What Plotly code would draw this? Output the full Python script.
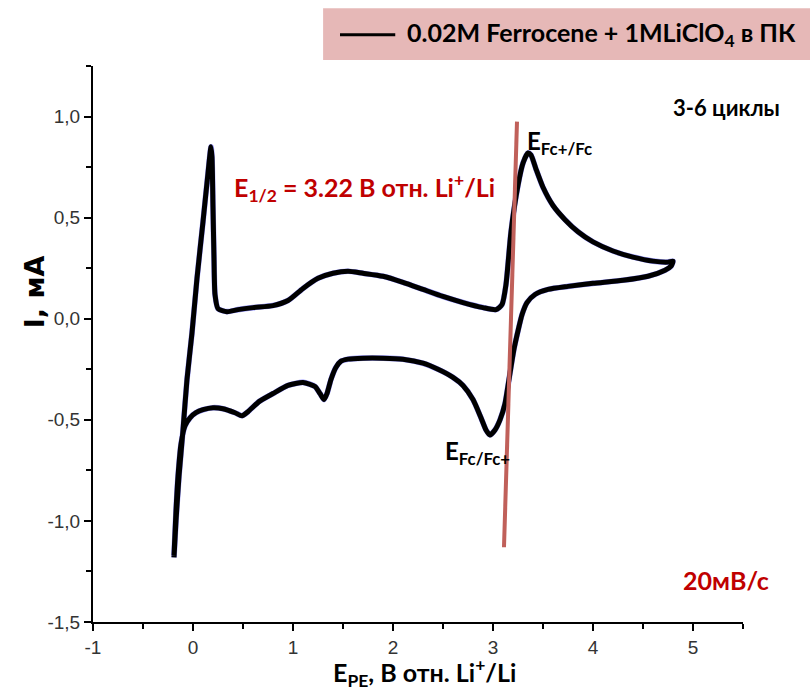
import plotly.graph_objects as go

# Cyclic voltammogram, cycles 3-6: potential (V vs Li+/Li) and current (mA)
# forward (anodic) sweep from the cathodic vertex to the anodic vertex
E_forward = [-0.19, -0.17, -0.14, -0.10, -0.06, -0.01, 0.04, 0.10, 0.15, 0.18,
             0.19, 0.20, 0.21, 0.22, 0.25, 0.34, 0.45, 0.60, 0.80, 0.95,
             1.10, 1.25, 1.40, 1.55, 1.70, 1.90, 2.10, 2.30, 2.50, 2.70,
             2.90, 3.03, 3.09, 3.13, 3.18, 3.25, 3.30, 3.35, 3.38, 3.43,
             3.50, 3.60, 3.72, 3.85, 4.00, 4.20, 4.40, 4.60, 4.75, 4.80]
I_forward = [-1.18, -1.00, -0.78, -0.55, -0.30, -0.07, 0.20, 0.48, 0.72, 0.85,
             0.80, 0.55, 0.30, 0.12, 0.05, 0.035, 0.045, 0.055, 0.065, 0.09,
             0.15, 0.20, 0.225, 0.235, 0.225, 0.21, 0.18, 0.145, 0.11, 0.08,
             0.055, 0.045, 0.07, 0.17, 0.43, 0.66, 0.77, 0.82, 0.81, 0.74,
             0.65, 0.56, 0.49, 0.43, 0.38, 0.335, 0.305, 0.285, 0.28, 0.285]
# reverse (cathodic) sweep back to the cathodic vertex
E_reverse = [4.78, 4.72, 4.55, 4.30, 4.00, 3.75, 3.55, 3.42, 3.34, 3.29,
             3.25, 3.21, 3.16, 3.12, 3.07, 3.02, 2.97, 2.93, 2.88, 2.80,
             2.70, 2.60, 2.45, 2.30, 2.10, 1.90, 1.70, 1.55, 1.48, 1.43,
             1.38, 1.34, 1.31, 1.27, 1.22, 1.10, 0.95, 0.80, 0.66, 0.55,
             0.49, 0.42, 0.30, 0.20, 0.10, 0.03, -0.03, -0.08, -0.12, -0.15,
             -0.17, -0.19]
I_reverse = [0.26, 0.24, 0.21, 0.19, 0.175, 0.16, 0.145, 0.12, 0.08, 0.02,
             -0.06, -0.15, -0.30, -0.42, -0.50, -0.55, -0.575, -0.55, -0.49, -0.40,
             -0.33, -0.29, -0.25, -0.22, -0.20, -0.195, -0.195, -0.20, -0.21, -0.24,
             -0.30, -0.37, -0.40, -0.37, -0.335, -0.315, -0.33, -0.37, -0.41, -0.46,
             -0.48, -0.465, -0.445, -0.44, -0.45, -0.465, -0.49, -0.53, -0.62, -0.78,
             -0.95, -1.17]

# half-wave potential guide line through the Fc/Fc+ couple
E_half_line = [3.24, 3.11]
I_half_line = [0.975, -1.13]

x_tickvals = [-1, 0, 1, 2, 3, 4, 5]
x_ticktext = ["-1", "0", "1", "2", "3", "4", "5"]
y_tickvals = [-1.5, -1.0, -0.5, 0.0, 0.5, 1.0]
y_ticktext = ["-1,5", "-1,0", "-0,5", "0,0", "0,5", "1,0"]

E_all = E_forward + E_reverse
I_all = I_forward + I_reverse

fig = go.Figure()
# faint blue cycle underneath the black ones
fig.add_trace(go.Scatter(x=E_all, y=I_all, mode="lines", opacity=0.45,
                         line=dict(color="#1a1aff", width=5.6, shape="spline", smoothing=0.6),
                         showlegend=False, hoverinfo="skip"))
fig.add_trace(go.Scatter(x=E_all, y=I_all, mode="lines",
                         line=dict(color="black", width=5, shape="spline", smoothing=0.6),
                         name="0.02M Ferrocene + 1MLiClO4 в ПК", showlegend=False))
fig.add_trace(go.Scatter(x=E_half_line, y=I_half_line, mode="lines",
                         line=dict(color="#c0605a", width=4),
                         showlegend=False, hoverinfo="skip"))

tick_font = dict(family="Liberation Sans, Arial, sans-serif", size=19, color="#333333")
axis_common = dict(showline=True, linecolor="black", linewidth=2, showgrid=False,
                   zeroline=False, ticks="outside", ticklen=7, tickwidth=2,
                   tickcolor="black", tickfont=tick_font)

fig.update_xaxes(range=[-1, 5.5], tickmode="array", tickvals=x_tickvals,
                 ticktext=x_ticktext,
                 minor=dict(dtick=0.5, ticks="outside", ticklen=5, tickwidth=2,
                            tickcolor="black", tick0=0),
                 **axis_common)
fig.update_yaxes(range=[-1.5, 1.25], tickmode="array", tickvals=y_tickvals,
                 ticktext=y_ticktext,
                 minor=dict(dtick=0.25, ticks="outside", ticklen=5, tickwidth=2,
                            tickcolor="black", tick0=0),
                 **axis_common)

label_font = "Lato, 'Open Sans', sans-serif"
annotations = [
    # axis titles
    dict(text="<b>I, мА</b>", xref="paper", yref="paper", x=-0.09, y=0.594,
         xanchor="center", yanchor="middle", textangle=-90, showarrow=False,
         font=dict(family="DejaVu Sans, sans-serif", size=27, color="black")),
    dict(text="<b>E<sub>РЕ</sub>, В отн. Li<sup>+</sup>/Li</b>", xref="paper", yref="paper",
         x=0.51, y=-0.09, xanchor="center", yanchor="middle", showarrow=False,
         font=dict(family=label_font, size=25, color="black")),
    # legend text
    dict(text="<b>0.02M Ferrocene + 1MLiClO<sub>4</sub> в ПК</b>", xref="paper", yref="paper",
         x=0.48, y=1.058, xanchor="left", yanchor="middle", showarrow=False,
         font=dict(family=label_font, size=25, color="black")),
    # in-plot notes
    dict(text="<b>3-6 циклы</b>", x=5.33, y=1.045, xanchor="center", yanchor="middle",
         showarrow=False, font=dict(family=label_font, size=22, color="black")),
    dict(text="<b>E<sub>1/2</sub> = 3.22 В отн. Li<sup>+</sup>/Li</b>", x=0.39, y=0.65,
         xanchor="left", yanchor="middle", showarrow=False,
         font=dict(family=label_font, size=25, color="#c00000")),
    dict(text="<b>E<sub>Fc+/Fc</sub></b>", x=3.32, y=0.87, xanchor="left", yanchor="middle",
         showarrow=False, font=dict(family=label_font, size=24, color="black")),
    dict(text="<b>E<sub>Fc/Fc+</sub></b>", x=2.5, y=-0.66, xanchor="left", yanchor="middle",
         showarrow=False, font=dict(family=label_font, size=24, color="black")),
    dict(text="<b>20мВ/с</b>", x=4.88, y=-1.29, xanchor="left", yanchor="middle",
         showarrow=False, font=dict(family=label_font, size=25, color="#c00000")),
]

shapes = [
    # legend box and its line sample
    dict(type="rect", xref="paper", yref="paper", x0=0.354, x1=1.12, y0=1.011, y1=1.104,
         fillcolor="#e6b8b7", line=dict(width=0), layer="below"),
    dict(type="line", xref="paper", yref="paper", x0=0.38, x1=0.465, y0=1.056, y1=1.056,
         line=dict(color="black", width=3)),
]

fig.update_layout(
    width=810, height=696,
    margin=dict(l=93, r=67, t=66, b=74),
    paper_bgcolor="white", plot_bgcolor="white",
    annotations=annotations, shapes=shapes,
    showlegend=False,
)

fig.write_html("out.html")
